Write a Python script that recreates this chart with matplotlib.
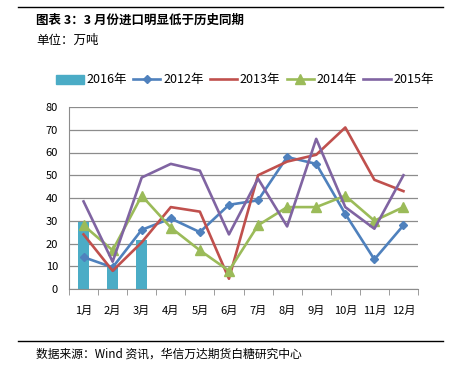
import matplotlib
matplotlib.use("Agg")
import matplotlib.pyplot as plt
import numpy as np
from matplotlib.lines import Line2D

plt.rcParams['font.family'] = ['Noto Sans CJK SC', 'DejaVu Sans']

months = ['1月', '2月', '3月', '4月', '5月', '6月', '7月', '8月', '9月', '10月', '11月', '12月']
y2016 = [29.5, 10, 21.5]
y2012 = [14, 9.5, 26, 31, 25, 37, 39, 58, 55, 33, 13, 28]
y2013 = [24, 8, 20.5, 36, 34, 4.5, 50, 56, 59, 71, 48, 43]
y2014 = [28, 17, 41, 27, 17, 8, 28, 36, 36, 41, 30, 36]
y2015 = [38.5, 12, 49, 55, 52, 24, 48.5, 27.5, 66, 36, 26.5, 50]
yticks = [0, 10, 20, 30, 40, 50, 60, 70, 80]

c16, c12, c13, c14, c15 = '#4BACC6', '#4F81BD', '#C0504D', '#9BBB59', '#8064A2'

fig = plt.figure(figsize=(4.5, 3.67), dpi=100)
W, H = 450, 367
ax = fig.add_axes([69 / W, 1 - 289 / H, (418 - 69) / W, (289 - 107) / H])

x = np.arange(len(months))
ax.bar(x[:len(y2016)], y2016, width=0.38, color=c16, zorder=2)
lw = 1.9
ax.plot(x, y2012, color=c12, lw=lw, marker='D', ms=4.5, zorder=3)
ax.plot(x, y2013, color=c13, lw=lw, zorder=3)
ax.plot(x, y2014, color=c14, lw=lw, marker='^', ms=6.5, zorder=3)
ax.plot(x, y2015, color=c15, lw=lw, zorder=3)

ax.set_xlim(-0.5, len(months) - 0.5)
ax.set_ylim(0, 80)
ax.set_yticks(yticks)
ax.set_yticklabels([str(v) for v in yticks], fontsize=8)
ax.yaxis.grid(True, color='#8c8c8c', lw=0.9, zorder=0)
ax.set_axisbelow(True)
ax.set_xticks(x)
ax.set_xticklabels(months, fontsize=8)
ax.set_xticks(np.arange(-0.5, len(months)), minor=True)
ax.tick_params(axis='x', which='major', length=0, pad=12)
ax.tick_params(axis='x', which='minor', length=4, direction='out', color='#8c8c8c')
ax.tick_params(axis='y', length=0, pad=8)
for s in ['top', 'right']:
    ax.spines[s].set_visible(False)
ax.spines['left'].set_color('#8c8c8c')
ax.spines['bottom'].set_color('#8c8c8c')

handles = [
    plt.Rectangle((0, 0), 1, 1, color=c16),
    Line2D([], [], color=c12, lw=lw, marker='D', ms=4.5),
    Line2D([], [], color=c13, lw=lw),
    Line2D([], [], color=c14, lw=lw, marker='^', ms=6.5),
    Line2D([], [], color=c15, lw=lw),
]
labels = ['2016年', '2012年', '2013年', '2014年', '2015年']
fig.legend(handles, labels, loc='center', bbox_to_anchor=(245 / W, 1 - 80 / H), ncol=5,
           frameon=False, fontsize=9, handlelength=2.2, handletextpad=0.2, columnspacing=0.5,
           borderpad=0, borderaxespad=0)

fig.add_artist(Line2D([18 / W, 443 / W], [1 - 7 / H, 1 - 7 / H], color='black', lw=1))
fig.add_artist(Line2D([18 / W, 443 / W], [1 - 341 / H, 1 - 341 / H], color='black', lw=1))
fig.text(36 / W, 1 - 20 / H, '图表 3：3 月份进口明显低于历史同期', fontsize=9, fontweight='bold', va='center')
fig.text(36 / W, 1 - 40 / H, '单位：万吨', fontsize=9, va='center')
fig.text(36 / W, 1 - 354 / H, '数据来源：Wind 资讯，华信万达期货白糖研究中心', fontsize=8.5, va='center')

fig.savefig('out.png', dpi=100)
